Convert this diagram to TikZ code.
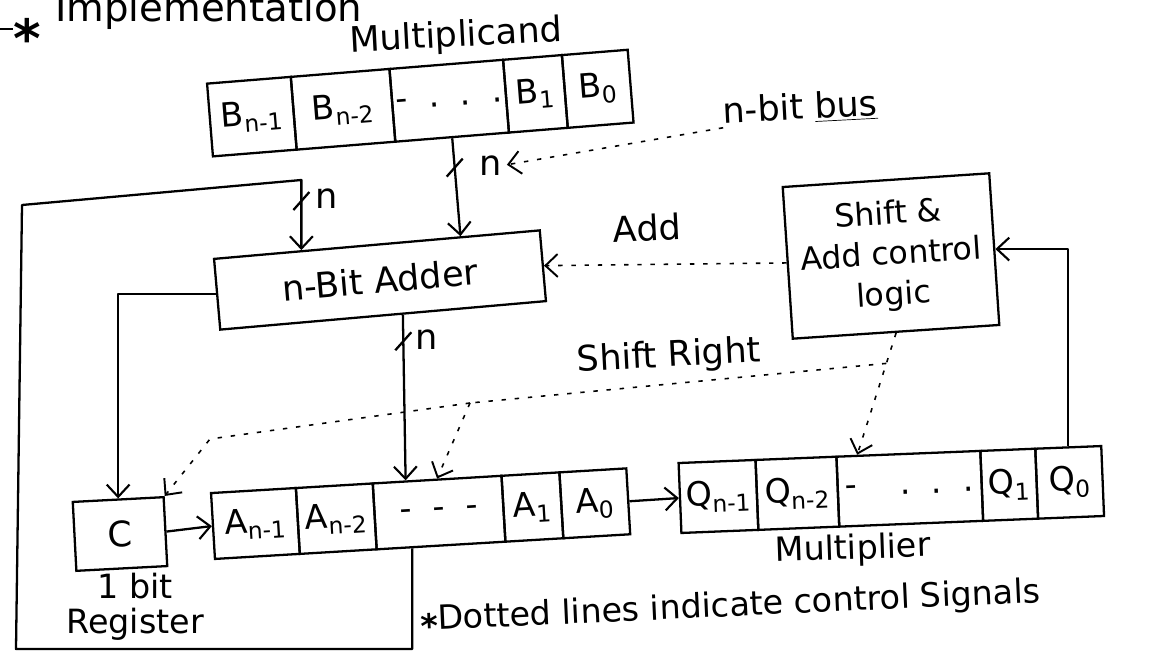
\documentclass[tikz,border=0pt]{standalone}
\usepackage{fontspec}
\setmainfont{DejaVu Sans}
\usetikzlibrary{arrows.meta,calc}
\begin{document}
\begin{tikzpicture}[x=0.02cm, y=-0.02cm,
  wire/.style={line width=1.3pt, line join=round},
  feed/.style={wire, -{Straight Barb[length=7pt,width=13pt,line width=1.2pt]}},
  ctl/.style={line width=0.9pt, dash pattern=on 2.5pt off 5pt},
  ctlfeed/.style={ctl, -{Straight Barb[length=7pt,width=13pt,line width=1.1pt]}},
  lbl/.style={inner sep=0pt, font=\fontsize{20}{24}\selectfont},
  cell/.style={draw, line width=1.3pt, inner sep=0pt, transform shape, font=\fontsize{19}{22}\selectfont},
  block/.style={draw, line width=1.3pt, inner sep=0pt, align=center, font=\fontsize{20}{24}\selectfont},
  buscut/.style={line width=1.3pt}
]
\useasboundingbox (0,0) rectangle (1153,655);
\fill[white] (0,0) rectangle (1153,655);

% heading, running off the top of the page
\coordinate (edge) at (0,29);
\node[inner sep=0pt, font=\bfseries\fontsize{30}{30}\selectfont] (star) at (27,38) {*};
\draw[wire] (edge) -- (star.west |- edge);
\node[anchor=base west, inner sep=0pt, font=\fontsize{22}{22}\selectfont] (title) at (55,22) {Implementation};

% multiplicand register B
\node[lbl, rotate=3] (mcand) at (456,37) {Multiplicand};
\begin{scope}[shift={(210,120)}, rotate=4.6]
  \node[cell, minimum width=1.68cm, minimum height=1.46cm] (Bn1) at (42,0) {B\textsubscript{n-1}};
  \node[cell, minimum width=1.98cm, minimum height=1.46cm] (Bn2) at (133.5,0) {B\textsubscript{n-2}};
  \node[cell, minimum width=2.28cm, minimum height=1.46cm] (Bd) at (240,0) {-\ \ .\ \ .\ \ .};
  \node[cell, minimum width=1.18cm, minimum height=1.46cm] (B1) at (326.5,0) {B\textsubscript{1}};
  \node[cell, minimum width=1.32cm, minimum height=1.46cm] (B0) at (389,0) {B\textsubscript{0}};
\end{scope}

% accumulator register A
\begin{scope}[shift={(213,526)}, rotate=3.4]
  \node[cell, minimum width=1.70cm, minimum height=1.32cm] (An1) at (42.5,0) {A\textsubscript{n-1}};
  \node[cell, minimum width=1.54cm, minimum height=1.32cm] (An2) at (123.5,0) {A\textsubscript{n-2}};
  \node[cell, minimum width=2.58cm, minimum height=1.32cm] (Ad) at (226.5,0) {-\ \ -\ \ -};
  \node[cell, minimum width=1.16cm, minimum height=1.32cm] (A1) at (320,0) {A\textsubscript{1}};
  \node[cell, minimum width=1.34cm, minimum height=1.32cm] (A0) at (382.5,0) {A\textsubscript{0}};
\end{scope}

% multiplier register Q
\begin{scope}[shift={(680,498)}, rotate=2.3]
  \node[cell, minimum width=1.54cm, minimum height=1.40cm] (Qn1) at (38.5,0) {Q\textsubscript{n-1}};
  \node[cell, minimum width=1.62cm, minimum height=1.40cm] (Qn2) at (117.5,0) {Q\textsubscript{n-2}};
  \node[cell, minimum width=2.88cm, minimum height=1.40cm] (Qd) at (230,0) {-\ \ \ \ .\ \ .\ \ .};
  \node[cell, minimum width=1.10cm, minimum height=1.40cm] (Q1) at (329.5,0) {Q\textsubscript{1}};
  \node[cell, minimum width=1.32cm, minimum height=1.40cm] (Q0) at (390,0) {Q\textsubscript{0}};
\end{scope}
\node[lbl, rotate=2, font=\fontsize{19}{22}\selectfont] (mplier) at (853,550) {Multiplier};

% adder, carry flip-flop, control unit
\node[block, rotate=5, minimum width=6.54cm, minimum height=1.42cm] (adder) at (380,280) {n-Bit Adder};
\node[block, rotate=3, minimum width=1.82cm, minimum height=1.38cm] (C) at (120,534) {C};
\node[lbl, align=center, font=\fontsize{19}{20}\selectfont] (reg) at (135,607) {1 bit\\Register};
\node[block, rotate=3.8, minimum width=4.14cm, minimum height=3.04cm, font=\fontsize{18}{23}\selectfont] (ctrl) at (891,256) {Shift \&\\Add control\\logic};

% multiplicand -> adder (n-bit bus)
\coordinate (addB) at ($(adder.north west)!0.755!(adder.north east)$);
\draw[feed] (Bd.south) -- (addB);
\coordinate (s1) at ($(Bd.south)!0.3!(addB)$);
\draw[buscut] ($(s1)+(-8,9)$) -- ($(s1)+(8,-9)$);
\node[lbl, anchor=west] (nB) at ($(s1)+(24,-2)$) {n};
\node[lbl, rotate=3] (busl) at (800,108) {n-bit \underline{bus}};
\draw[ctlfeed, shorten >=3pt] (busl.south west) -- (nB.east);

% A -> adder feedback loop
\coordinate (fbs) at ($(Ad.south west)!0.28!(Ad.south east)$);
\coordinate (fbBL) at (16,649);
\coordinate (fbTL) at (22,205);
\coordinate (fbTR) at (302,180);
\coordinate (addA) at ($(adder.north west)!0.27!(adder.north east)$);
\draw[feed] (fbs) -- (fbs |- fbBL) -- (fbBL) -- (fbTL) -- (addA |- fbTR) -- (addA);
\coordinate (s2) at ($(addA |- fbTR)!0.3!(addA)$);
\draw[buscut] ($(s2)+(-8,9)$) -- ($(s2)+(8,-9)$);
\node[lbl, anchor=west] (nA) at ($(s2)+(14,-2)$) {n};

% adder sum -> A
\coordinate (addOut) at ($(adder.south west)!0.56!(adder.south east)$);
\coordinate (aIn) at ($(Ad.north west)!0.26!(Ad.north east)$);
\draw[feed] (addOut) -- (aIn);
\coordinate (s3) at ($(addOut)!0.16!(aIn)$);
\draw[buscut] ($(s3)+(-8,9)$) -- ($(s3)+(8,-9)$);
\node[lbl, anchor=west] (nS) at ($(s3)+(12,-2)$) {n};

% carry out -> C, C -> A, A -> Q, Q0 -> control
\draw[feed] (adder.west) -| (C.north);
\draw[feed] (C.east) -- (An1.west);
\draw[feed] (A0.east) -- (Qn1.west);
\draw[feed] (Q0.north) |- (ctrl.east);

% control signals
\node[lbl, rotate=3] (addl) at (647,228) {Add};
\draw[ctlfeed] (ctrl.west) -- (adder.east);
\coordinate (qIn) at ($(Qd.north west)!0.15!(Qd.north east)$);
\draw[ctlfeed] (ctrl.south) -- (qIn);
\node[lbl, rotate=3] (srl) at (669,357) {Shift Right};
\coordinate (sr1) at ($(ctrl.south)!0.25!(qIn)$);
\coordinate (sr2) at (470,403);
\coordinate (sr3) at (210,439);
\draw[ctl] (sr1) -- (sr2);
\draw[ctlfeed] (sr2) -- (sr3) -- (C.north east);
\draw[ctlfeed] (sr2) -- (Ad.north);

% note
\node[lbl, rotate=2.6, anchor=west, font=\fontsize{19}{22}\selectfont] (note) at (420,622) {\raisebox{-0.45ex}{\bfseries *}Dotted lines indicate control Signals};
\end{tikzpicture}
\end{document}
